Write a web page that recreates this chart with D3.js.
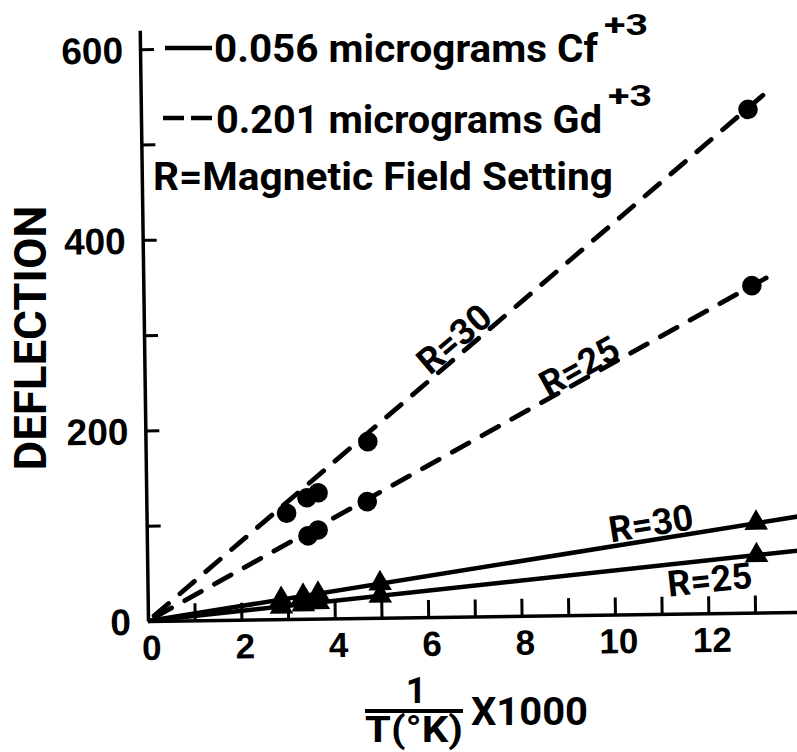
<!doctype html>
<html>
<head>
<meta charset="utf-8">
<title>deflection vs 1/T</title>
<style>
  body { margin: 0; background: #fff; }
  svg { display: block; font-family: Roboto, "DejaVu Sans", sans-serif; font-weight: 700; }
</style>
</head>
<body>
<svg id="chart" width="797" height="752"></svg>
<script src="https://d3js.org/d3.v7.min.js"></script>
<script>
  // Cf+3, 0.056 micrograms -> triangles, solid lines
  const cfX = [2.86, 3.33, 3.65, 4.98, 13.05];
  const cfR30 = [21, 24, 26, 36, 94];
  const cfR25 = [13, 15, 17, 23, 60];

  // Gd+3, 0.201 micrograms -> circles, dashed lines
  const gdX30 = [3.0, 3.44, 3.68, 4.76, 13.0];
  const gdR30 = [111, 127, 132, 185, 528];
  const gdX25 = [3.45, 3.67, 4.73, 13.03];
  const gdR25 = [87, 93, 122, 343];

  // hand drawn lines through the origin
  const cfFit30 = [[0, 0], [14, 100.5]];
  const cfFit25 = [[0, 0], [14, 64.7]];
  const gdFit30 = [[0, 0], [13.48, 549]];
  const gdFit25 = [[0, 0], [13.57, 357]];

  const xMinorTicks = d3.range(1, 14);
  const xTickLabels = [0, 2, 4, 6, 8, 10, 12];
  const yMinorTicks = [100, 200, 300, 400, 500, 600];
  const yTickLabels = [0, 200, 400, 600];

  const legendRows = ['0.056 micrograms Cf', '0.201 micrograms Gd', 'R=Magnetic Field Setting'];
  const legendSup = ['+3', '+3', ''];

  // R labels sit on their line at atX; off = baseline shift across the line (px, - is above)
  const lineLabels = [
    { text: 'R=30', fit: gdFit30, atX: 6.85, off: -3 },
    { text: 'R=25', fit: gdFit25, atX: 9.45, off: -1 },
    { text: 'R=30', fit: cfFit30, atX: 10.85, off: -4 },
    { text: 'R=25', fit: cfFit25, atX: 12.0, off: 32 }
  ];

  const svg = d3.select('#chart');
  const X0 = 148, Y0 = 621;
  const x = d3.scaleLinear().domain([0, 14]).range([X0, X0 + 14 * 46.7]);
  const y = d3.scaleLinear().domain([0, 620]).range([Y0, Y0 - 620 * 0.953]);

  svg.append('rect').attr('width', 797).attr('height', 752).attr('fill', '#fff');

  // the scan is tilted a little, so is the plot
  const g = svg.append('g').attr('transform', `rotate(-0.8, ${X0}, ${Y0})`);

  // x axis: ticks point up
  g.append('g').attr('transform', `translate(0,${Y0})`)
    .call(d3.axisBottom(x).tickValues(xMinorTicks).tickSize(-17).tickSizeOuter(0).tickFormat(''));
  const xLab = g.append('g').attr('transform', `translate(0,${Y0})`)
    .call(d3.axisBottom(x).tickValues(xTickLabels).tickSize(0).tickPadding(14));
  xLab.select('.domain').remove();

  // y axis: ticks point right
  g.append('g').attr('transform', `translate(${X0},0)`)
    .call(d3.axisRight(y).tickValues(yMinorTicks).tickSize(14).tickSizeOuter(0).tickFormat(''));
  const yLab = g.append('g').attr('transform', `translate(${X0},0)`)
    .call(d3.axisLeft(y).tickValues(yTickLabels).tickSize(0).tickPadding(17));
  yLab.select('.domain').remove();

  g.selectAll('.domain').attr('stroke', '#000').attr('stroke-width', 3.5);
  g.selectAll('.tick line').attr('stroke', '#000').attr('stroke-width', 3);
  xLab.selectAll('text').attr('font-size', 35).attr('font-family', null).attr('dx', 3);
  yLab.selectAll('text').attr('font-size', 37).attr('font-family', null).attr('dy', '0.36em');

  // lines
  const line = d3.line().x(d => x(d[0])).y(d => y(d[1]));
  [cfFit30, cfFit25].forEach(f => {
    g.append('path').attr('d', line(f)).attr('fill', 'none')
      .attr('stroke', '#000').attr('stroke-width', 4.5);
  });
  [gdFit30, gdFit25].forEach(f => {
    g.append('path').attr('d', line(f)).attr('fill', 'none')
      .attr('stroke', '#000').attr('stroke-width', 4.8).attr('stroke-linecap', 'round')
      .attr('stroke-dasharray', '19,15').attr('stroke-dashoffset', -8);
  });

  // markers
  const tri = d3.symbol(d3.symbolTriangle, 240);
  [cfR30, cfR25].forEach(vals => {
    g.selectAll(null).data(vals).join('path')
      .attr('d', tri)
      .attr('transform', (d, i) => `translate(${x(cfX[i])},${y(d)})`)
      .attr('fill', '#000');
  });
  g.selectAll(null).data(gdR30).join('circle')
    .attr('cx', (d, i) => x(gdX30[i])).attr('cy', d => y(d)).attr('r', 9.8).attr('fill', '#000');
  g.selectAll(null).data(gdR25).join('circle')
    .attr('cx', (d, i) => x(gdX25[i])).attr('cy', d => y(d)).attr('r', 9.8).attr('fill', '#000');

  // R= labels along the lines
  lineLabels.forEach(l => {
    const p0 = l.fit[0], p1 = l.fit[1];
    const slope = (p1[1] - p0[1]) / (p1[0] - p0[0]);
    const ang = Math.atan2(y(p1[1]) - y(p0[1]), x(p1[0]) - x(p0[0])) * 180 / Math.PI;
    g.append('text')
      .attr('transform', `translate(${x(l.atX)},${y(p0[1] + slope * (l.atX - p0[0]))}) rotate(${ang})`)
      .attr('text-anchor', 'middle').attr('y', l.off)
      .attr('font-size', 36).text(l.text);
  });

  // legend
  svg.append('line').attr('x1', 165).attr('x2', 212).attr('y1', 48).attr('y2', 48)
    .attr('stroke', '#000').attr('stroke-width', 4.5);
  svg.append('line').attr('x1', 163).attr('x2', 212).attr('y1', 118).attr('y2', 118)
    .attr('stroke', '#000').attr('stroke-width', 4.5).attr('stroke-dasharray', '21,7');

  const legendX = [214, 216, 153];
  const legendY = [62, 133, 190];
  const legendW = [384, 386, 460];
  legendRows.forEach((t, i) => {
    svg.append('text').attr('x', legendX[i]).attr('y', legendY[i])
      .attr('font-size', 39).attr('textLength', legendW[i]).attr('lengthAdjust', 'spacingAndGlyphs')
      .text(t);
    if (legendSup[i]) {
      svg.append('text').attr('x', legendX[i] + legendW[i] + 6).attr('y', legendY[i] - 27)
        .attr('font-size', 30).attr('textLength', 44).attr('lengthAdjust', 'spacingAndGlyphs')
        .text(legendSup[i]);
    }
  });

  // axis titles
  svg.append('text').attr('transform', 'translate(46,338) rotate(-90)')
    .attr('text-anchor', 'middle').attr('font-size', 44)
    .attr('textLength', 265).attr('lengthAdjust', 'spacingAndGlyphs').text('DEFLECTION');

  svg.append('text').attr('x', 416).attr('y', 703).attr('text-anchor', 'middle')
    .attr('font-size', 36).text('1');
  svg.append('line').attr('x1', 365).attr('x2', 463).attr('y1', 711).attr('y2', 711)
    .attr('stroke', '#000').attr('stroke-width', 4);
  svg.append('text').attr('x', 365).attr('y', 742).attr('font-size', 36)
    .attr('textLength', 98).attr('lengthAdjust', 'spacingAndGlyphs').text('T(°K)');
  svg.append('text').attr('x', 471).attr('y', 725).attr('font-size', 39)
    .attr('textLength', 117).attr('lengthAdjust', 'spacingAndGlyphs').text('X1000');
</script>
</body>
</html>
